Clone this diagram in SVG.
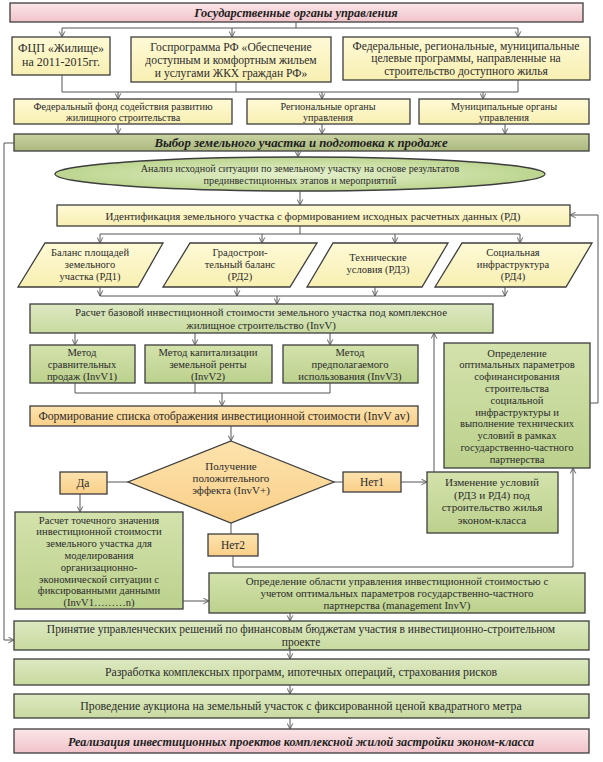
<svg xmlns="http://www.w3.org/2000/svg" width="603" height="762" viewBox="0 0 603 762" font-family="'Liberation Serif','DejaVu Serif',serif">
<defs>
<linearGradient id="gPink" x1="0" y1="0" x2="0" y2="1"><stop offset="0" stop-color="#fbe6e8"/><stop offset="1" stop-color="#f0c3c9"/></linearGradient>
<linearGradient id="gYel" x1="0" y1="0" x2="0" y2="1"><stop offset="0" stop-color="#fefad6"/><stop offset="1" stop-color="#f8efb2"/></linearGradient>
<linearGradient id="gOlive" x1="0" y1="0" x2="0" y2="1"><stop offset="0" stop-color="#c9d3a2"/><stop offset="1" stop-color="#aab87e"/></linearGradient>
<linearGradient id="gGreen" x1="0" y1="0" x2="0" y2="1"><stop offset="0" stop-color="#dde9c2"/><stop offset="1" stop-color="#c8da9f"/></linearGradient>
<linearGradient id="gGreen2" x1="0" y1="0" x2="0" y2="1"><stop offset="0" stop-color="#d3e2ac"/><stop offset="1" stop-color="#bcd18d"/></linearGradient>
<radialGradient id="gEll" cx="0.5" cy="0.5" r="0.5"><stop offset="0" stop-color="#e6f1cf"/><stop offset="1" stop-color="#bcd58f"/></radialGradient>
<linearGradient id="gOr" x1="0" y1="0" x2="0" y2="1"><stop offset="0" stop-color="#fde3ae"/><stop offset="1" stop-color="#f9cf88"/></linearGradient>
<marker id="ar" viewBox="0 0 10 10" refX="9" refY="5" markerWidth="7" markerHeight="7" orient="auto" markerUnits="userSpaceOnUse">
<path d="M1,1 L9,5 L1,9" fill="none" stroke="#555" stroke-width="1.3"/>
</marker>
</defs>
<style>
.b{stroke:#3d3d3d;stroke-width:1.3}
.pk{fill:url(#gPink)}
.yl{fill:url(#gYel)}
.ol{fill:url(#gOlive)}
.gr{fill:url(#gGreen)}
.gr2{fill:url(#gGreen2)}
.or{fill:url(#gOr)}
text{font-family:"Liberation Serif","DejaVu Serif",serif;font-size:10.5px;fill:#2b2b2b;text-anchor:middle}
.hd{font-weight:bold;font-style:italic;font-size:12.4px;fill:#1e1e1e}
.s12{font-size:12px}
.s116{font-size:11.6px}
.s11{font-size:11px}
.s102{font-size:10.2px}
.s106{font-size:10.6px}
.s112{font-size:11.2px}
.s115{font-size:11.5px}
.s118{font-size:11.8px}
.c{fill:none;stroke:#555;stroke-width:1}
</style>

<g id="title"><rect class="b pk" x="10" y="3" width="573" height="19"/><text class="hd" x="296" y="16.8">Государственные органы управления</text></g>

<g id="fcp"><rect class="b yl" x="12" y="37" width="98" height="38"/><text class="s12" x="61" y="52">ФЦП «Жилище»</text><text class="s12" x="61" y="66">на 2011-2015гг.</text></g>
<g id="gosprog"><rect class="b yl" x="131" y="37" width="200" height="45"/><text class="s116" x="231" y="50.5">Госпрограмма РФ «Обеспечение</text><text class="s116" x="231" y="63.5">доступным и комфортным жильем</text><text class="s116" x="231" y="76.5">и услугами ЖКХ граждан РФ»</text></g>
<g id="fedprog"><rect class="b yl" x="343" y="37" width="247" height="43"/><text class="s116" x="466" y="49.5">Федеральные, региональные, муниципальные</text><text class="s116" x="466" y="62.3">целевые программы, направленные на</text><text class="s116" x="466" y="75.1">строительство доступного жилья</text></g>

<g id="fond"><rect class="b yl" x="14" y="99" width="218" height="25"/><text class="s102" x="123" y="109.5">Федеральный фонд содействия развитию</text><text class="s102" x="123" y="120.9">жилищного строительства</text></g>
<g id="region"><rect class="b yl" x="247" y="99" width="163" height="25"/><text class="s102" x="328" y="109.5">Региональные органы</text><text class="s102" x="328" y="120.9">управления</text></g>
<g id="munic"><rect class="b yl" x="419" y="99" width="170" height="25"/><text class="s102" x="504" y="109.5">Муниципальные органы</text><text class="s102" x="504" y="120.9">управления</text></g>

<g id="vybor"><rect class="b ol" x="14" y="134" width="575" height="17"/><text class="hd" x="301" y="147" style="font-size:12.8px">Выбор земельного участка и подготовка к продаже</text></g>

<g id="analiz"><ellipse class="b" fill="url(#gEll)" cx="300" cy="174" rx="245" ry="17"/><text class="s102" x="300" y="172">Анализ исходной ситуации по земельному участку на основе результатов</text><text class="s102" x="300" y="183.8">прединвестиционных этапов и мероприятий</text></g>

<g id="ident"><rect class="b yl" x="57" y="205" width="513" height="21"/><text class="s11" x="313" y="219.5">Идентификация земельного участка с формированием исходных расчетных данных (РД)</text></g>

<g id="rd1"><polygon class="b yl" points="45,243 163,243 138,287 18,287"/><text x="90" y="256">Баланс площадей</text><text x="90" y="268">земельного</text><text x="90" y="280">участка (РД1)</text></g>
<g id="rd2"><polygon class="b yl" points="190,243 317,243 290,287 163,287"/><text x="240" y="256">Градострои-</text><text x="240" y="268">тельный баланс</text><text x="240" y="280">(РД2)</text></g>
<g id="rd3"><polygon class="b yl" points="333,243 448,243 422,287 307,287"/><text x="378" y="261">Технические</text><text x="378" y="273">условия (РД3)</text></g>
<g id="rd4"><polygon class="b yl" points="462,243 592,243 566,287 435,287"/><text x="513" y="256">Социальная</text><text x="513" y="268">инфраструктура</text><text x="513" y="280">(РД4)</text></g>

<g id="invv"><rect class="b gr" x="30" y="304" width="463" height="29"/><text x="261" y="316" style="font-size:10.8px">Расчет базовой инвестиционной стоимости земельного участка под комплексное</text><text x="261" y="328.5" style="font-size:10.8px">жилищное строительство (InvV)</text></g>

<g id="m1"><rect class="b gr2" x="30" y="345" width="105" height="38"/><text class="s106" x="82" y="355.8">Метод</text><text class="s106" x="82" y="367.7">сравнительных</text><text class="s106" x="82" y="379.6">продаж (InvV1)</text></g>
<g id="m2"><rect class="b gr2" x="145" y="345" width="127" height="38"/><text class="s106" x="208" y="355.8">Метод капитализации</text><text class="s106" x="208" y="367.7">земельной ренты</text><text class="s106" x="208" y="379.6">(InvV2)</text></g>
<g id="m3"><rect class="b gr2" x="283" y="345" width="135" height="38"/><text class="s106" x="350" y="355.8">Метод</text><text class="s106" x="350" y="367.7">предполагаемого</text><text class="s106" x="350" y="379.6">использования (InvV3)</text></g>

<g id="opt"><rect class="b gr2" x="444" y="343" width="146" height="125"/>
<text class="s106" x="517" y="356.5">Определение</text><text class="s106" x="517" y="368.3">оптимальных параметров</text><text class="s106" x="517" y="380.1">софинансирования</text><text class="s106" x="517" y="391.9">строительства</text><text class="s106" x="517" y="403.7">социальной</text><text class="s106" x="517" y="415.5">инфраструктуры и</text><text class="s106" x="517" y="427.3">выполнение технических</text><text class="s106" x="517" y="439.1">условий в рамках</text><text class="s106" x="517" y="450.9">государственно-частного</text><text class="s106" x="517" y="462.7">партнерства</text></g>

<g id="form"><rect class="b or" x="30" y="406" width="388" height="20"/><text class="s118" x="224" y="420">Формирование списка отображения инвестиционной стоимости (InvV av)</text></g>

<g id="decision"><polygon class="b or" points="231,441 334,482 231,523 128,482"/><text class="s11" x="231" y="469.5">Получение</text><text class="s11" x="231" y="482">положительного</text><text class="s11" x="231" y="494.4">эффекта (InvV+)</text></g>

<g id="da"><rect class="b or" x="60" y="472" width="47" height="22"/><text class="s115" x="83" y="487">Да</text></g>
<g id="net1"><rect class="b or" x="343" y="472" width="58" height="20"/><text class="s115" x="372" y="486">Нет1</text></g>
<g id="net2"><rect class="b or" x="208" y="534" width="50" height="22"/><text class="s115" x="233" y="549">Нет2</text></g>

<g id="izm"><rect class="b gr2" x="427" y="472" width="131" height="61"/><text class="s112" x="492" y="486">Изменение условий</text><text class="s112" x="492" y="498.5">(РД3 и РД4) под</text><text class="s112" x="492" y="511">строительство жилья</text><text class="s112" x="492" y="523.5">эконом-класса</text></g>

<g id="tochn"><rect class="b gr2" x="15" y="512" width="168" height="97"/>
<text class="s106" x="99" y="523.5">Расчет точечного значения</text><text class="s106" x="99" y="535.3">инвестиционной стоимости</text><text class="s106" x="99" y="547.1">земельного участка для</text><text class="s106" x="99" y="558.9">моделирования</text><text class="s106" x="99" y="570.7">организационно-</text><text class="s106" x="99" y="582.5">экономической ситуации с</text><text class="s106" x="99" y="594.3">фиксированными данными</text><text class="s106" x="99" y="606.1">(InvV1………n)</text></g>

<g id="oblast"><rect class="b gr2" x="209" y="573" width="376" height="40"/><text x="397" y="585" style="font-size:10.9px">Определение области управления инвестиционной стоимостью с</text><text x="397" y="597.2" style="font-size:10.9px">учетом оптимальных параметров государственно-частного</text><text x="397" y="609.4" style="font-size:10.9px">партнерства (management InvV)</text></g>

<g id="prin"><rect class="b gr" x="14" y="621" width="575" height="29"/><text class="s115" x="301" y="633.3">Принятие управленческих решений по финансовым бюджетам участия в инвестиционно-строительном</text><text class="s115" x="301" y="646.1">проекте</text></g>
<g id="razr"><rect class="b gr" x="14" y="659" width="575" height="26"/><text class="s118" x="301" y="676">Разработка комплексных программ, ипотечных операций, страхования рисков</text></g>
<g id="prov"><rect class="b gr" x="14" y="694" width="575" height="24"/><text class="s118" x="301" y="710">Проведение аукциона на земельный участок с фиксированной ценой квадратного метра</text></g>
<g id="real"><rect class="b pk" x="14" y="729" width="575" height="24"/><text class="hd" x="301" y="745.5" style="font-size:12.2px">Реализация инвестиционных  проектов комплексной жилой застройки эконом-класса</text></g>

<g id="connectors">
<path class="c" d="M296,22 V28 M62,28 H518"/>
<path class="c" d="M62,28 V37" marker-end="url(#ar)"/>
<path class="c" d="M232,28 V37" marker-end="url(#ar)"/>
<path class="c" d="M518,28 V37" marker-end="url(#ar)"/>
<path class="c" d="M62,75 V92 M236,82 V92 M518,80 V92 M62,92 H518"/>
<path class="c" d="M118,92 V99" marker-end="url(#ar)"/>
<path class="c" d="M322,92 V99" marker-end="url(#ar)"/>
<path class="c" d="M483,92 V99" marker-end="url(#ar)"/>
<path class="c" d="M118,124 V134" marker-end="url(#ar)"/>
<path class="c" d="M322,124 V134" marker-end="url(#ar)"/>
<path class="c" d="M505,124 V134" marker-end="url(#ar)"/>
<path class="c" d="M298,151 V157" marker-end="url(#ar)"/>
<path class="c" d="M300,191 V205" marker-end="url(#ar)"/>
<path class="c" d="M300,226 V234 M100,234 H520"/>
<path class="c" d="M100,234 V243" marker-end="url(#ar)"/>
<path class="c" d="M262,234 V243" marker-end="url(#ar)"/>
<path class="c" d="M395,234 V243" marker-end="url(#ar)"/>
<path class="c" d="M520,234 V243" marker-end="url(#ar)"/>
<path class="c" d="M100,287 V296" marker-end="url(#ar)"/>
<path class="c" d="M237,287 V296" marker-end="url(#ar)"/>
<path class="c" d="M375,287 V296" marker-end="url(#ar)"/>
<path class="c" d="M505,287 V296" marker-end="url(#ar)"/>
<path class="c" d="M100,296 H505"/>
<path class="c" d="M277,296 V304" marker-end="url(#ar)"/>
<path class="c" d="M75,333 V345" marker-end="url(#ar)"/>
<path class="c" d="M195,333 V345" marker-end="url(#ar)"/>
<path class="c" d="M330,333 V345" marker-end="url(#ar)"/>
<path class="c" d="M75,383 V393 M195,383 V393 M330,383 V393 M75,393 H330"/>
<path class="c" d="M222,393 V406" marker-end="url(#ar)"/>
<path class="c" d="M231,426 V441" marker-end="url(#ar)"/>
<path class="c" d="M128,482 H107"/>
<path class="c" d="M80,494 V512" marker-end="url(#ar)"/>
<path class="c" d="M334,482 H343"/>
<path class="c" d="M401,482 H427" marker-end="url(#ar)"/>
<path class="c" d="M231,523 V534"/>
<path class="c" d="M434,472 V333" marker-end="url(#ar)"/>
<path class="c" d="M233,556 V567 H573 V468" marker-end="url(#ar)"/>
<path class="c" d="M590,403 H598 V215 H570" marker-end="url(#ar)"/>
<path class="c" d="M183,601 H209" marker-end="url(#ar)"/>
<path class="c" d="M290,613 V621" marker-end="url(#ar)"/>
<path class="c" d="M14,143 H4 V640 H14" marker-end="url(#ar)"/>
<path class="c" d="M290,650 V659" marker-end="url(#ar)"/>
<path class="c" d="M290,685 V694" marker-end="url(#ar)"/>
<path class="c" d="M290,718 V729" marker-end="url(#ar)"/>
</g>
</svg>
